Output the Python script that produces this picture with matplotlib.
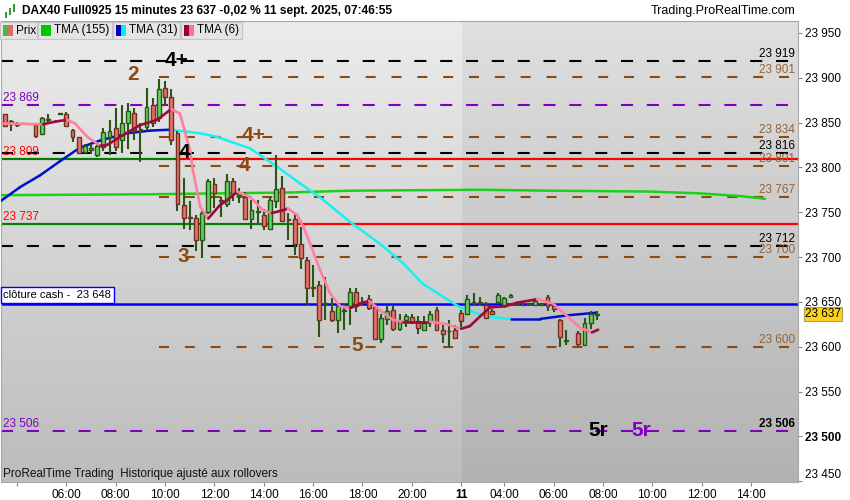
import numpy as np
import matplotlib
matplotlib.use("Agg")
import matplotlib.pyplot as plt
import matplotlib.transforms as mtransforms
from matplotlib.colors import LinearSegmentedColormap
from matplotlib.patches import Rectangle
from matplotlib.collections import LineCollection

plt.rcParams['font.family'] = ['Liberation Sans', 'DejaVu Sans']

# ---------------- data (15 min bars, index 0 = 10 sept 06:00) ----------------
nan = np.nan
bar_index = list(range(-10, 87))
opens = [23859, 23848, 23847, 23849, nan, 23847, 23837, 23853, nan, 23860,
         23860, 23842, 23834, 23817, 23819, 23814, 23823, 23834, 23844, 23831,
         23849, 23861, 23843, 23845, 23869, 23855, 23889, 23878, 23838, 23758,
         23745, 23744, 23719, 23750, 23782, 23764, 23759, 23785, 23769, 23767,
         23742, 23750, 23747, 23731, 23762, 23777, 23742, 23742, 23714, 23697,
         23667, 23669, 23648, 23640, 23630, 23640, 23645, 23661, 23651, 23653,
         23644, 23609, 23631, 23641, 23620, 23630, 23633, 23629, 23619, 23629,
         23641, 23619, 23617, 23619, 23638, 23636, 23649, 23650, 23647, 23640,
         23650, 23647, 23656, 23648, 23647, 23648, 23646, 23647, 23656, 23645,
         23630, 23606, nan, 23615, 23602, 23626, 23635]
highs = [23860, 23853, 23851, 23850, nan, 23847, 23856, 23859, nan, 23861,
         23862, 23843, 23834, 23826, 23826, 23825, 23844, 23853, 23866, 23870,
         23872, 23866, 23850, 23889, 23877, 23899, 23896, 23887, 23840, 23788,
         23762, 23747, 23751, 23787, 23788, 23767, 23793, 23788, 23777, 23772,
         23764, 23764, 23754, 23767, 23814, 23790, 23749, 23749, 23734, 23700,
         23691, 23673, 23678, 23654, 23648, 23648, 23665, 23665, 23656, 23658,
         23646, 23637, 23645, 23645, 23637, 23636, 23636, 23634, 23634, 23640,
         23644, 23624, 23630, 23624, 23641, 23658, 23660, 23656, 23650, 23642,
         23660, 23655, 23659, 23649, 23648, 23649, 23653, 23649, 23658, 23646,
         23631, 23619, nan, 23617, 23632, 23640, 23640]
lows = [23845, 23840, 23845, 23848, nan, 23833, 23836, 23849, nan, 23859,
        23845, 23828, 23815, 23815, 23815, 23812, 23818, 23814, 23818, 23816,
        23821, 23831, 23806, 23840, 23845, 23851, 23868, 23825, 23751, 23731,
        23730, 23707, 23699, 23748, 23755, 23745, 23756, 23763, 23760, 23741,
        23731, 23738, 23730, 23730, 23755, 23740, 23719, 23702, 23687, 23645,
        23656, 23611, 23630, 23628, 23615, 23619, 23624, 23639, 23646, 23641,
        23608, 23604, 23624, 23618, 23618, 23622, 23625, 23614, 23617, 23622,
        23617, 23604, 23600, 23609, 23622, 23635, 23645, 23646, 23631, 23636,
        23649, 23645, 23655, 23647, 23645, 23647, 23645, 23645, 23640, 23639,
        23600, 23602, nan, 23601, 23601, 23620, 23630]
closes = [23846, 23852, 23849, 23849, nan, 23835, 23855, 23854, nan, 23860,
          23846, 23834, 23816, 23824, 23822, 23824, 23839, 23841, 23823, 23849,
          23863, 23842, 23842, 23867, 23849, 23887, 23879, 23831, 23759, 23744,
          23744, 23719, 23749, 23785, 23771, 23762, 23785, 23770, 23771, 23742,
          23752, 23751, 23735, 23764, 23776, 23740, 23741, 23714, 23699, 23665,
          23665, 23630, 23649, 23630, 23645, 23641, 23661, 23645, 23650, 23643,
          23609, 23632, 23640, 23620, 23630, 23634, 23628, 23621, 23627, 23637,
          23619, 23614, 23618, 23610, 23629, 23653, 23650, 23649, 23632, 23637,
          23658, 23654, 23658, 23648, 23646, 23648, 23651, 23647, 23645, 23642,
          23611, 23607, nan, 23603, 23626, 23637, 23637]

# moving averages (bar position, value)
tma155_x = [-10.75, 13.6, 36.3, 46.0, 67.1, 78.4, 94.6, 102.7, 109.2, 113.2]
tma155_y = [23769, 23770, 23772, 23774, 23775, 23774, 23773, 23771, 23768, 23765]

tma31_x = [-10.75, -7.5, -4.3, -1.0, 2.2, 5.5, 9.8, 13.6, 16.8, 21.7, 24.4, 29.8,
           34.1, 37.9, 41.6, 46.0, 50.8, 54.6, 57.8, 61.7, 63.8, 67.1, 68.7, 72.1,
           76.8, 81.2, 86.0]
tma31_y = [23762, 23778, 23791, 23807, 23822, 23830, 23838, 23841, 23842, 23838,
           23834, 23821, 23801, 23782, 23764, 23739, 23715, 23693, 23670, 23653,
           23644, 23636, 23633, 23631, 23631, 23635, 23638]

tma6_x = [-10.75, -3.8, -1.8, 0.1, 1.4, 3.4, 5.5, 6.6, 9.2, 11.9, 14.7, 17.0, 18.4,
          20.05, 20.5, 21.7, 23.0, 24.9, 26.0, 27.7, 29.8, 31.9, 33.3, 35.0, 35.9,
          37.4, 38.4, 39.5, 41.1, 42.7, 44.4, 46.0, 47.6, 49.1, 50.8, 52.9, 54.6,
          58.9, 61.7, 64.0, 65.4, 67.1, 68.7, 71.1, 73.0, 76.3, 78.9, 81.2, 83.3,
          85.2, 86.2]
tma6_y = [23849, 23848, 23851, 23853, 23849, 23834, 23824, 23825, 23836, 23847,
          23853, 23865, 23860, 23819, 23797, 23756, 23743, 23758, 23763, 23773,
          23767, 23752, 23749, 23752, 23754, 23747, 23734, 23715, 23686, 23660,
          23645, 23643, 23648, 23651, 23641, 23630, 23628, 23628, 23625, 23620,
          23623, 23634, 23644, 23645, 23649, 23653, 23648, 23634, 23621, 23616,
          23619]

# horizontal levels
black_levels = [23919, 23816, 23712]
brown_levels = [23901, 23834, 23801, 23767, 23700, 23600]
purple_levels = [23869, 23506]
cash_close = 23648
pivot_hi = 23809
pivot_lo = 23737
pivot_hi_break = 17.9
pivot_lo_break = 37.1
pivot_lo_touches = [(20.9, 21.8), (31.9, 32.9)]
levels_start = 15.0
last_price = 23637

wave_labels = [("4+", 17.9, 23919, "black"), ("2", 10.8, 23903, "brown"),
               ("4", 19.1, 23817, "black"), ("4+", 30.3, 23836, "brown"),
               ("4", 28.8, 23802, "brown"), ("3", 18.9, 23701, "brown"),
               ("5", 47.1, 23601, "brown"), ("5r", 86.2, 23507, "black"),
               ("5r", 93.2, 23507, "purple")]

tick_pos = [-8, 0, 8, 16, 24, 32, 40, 48, 56, 64, 71, 79, 87, 95, 103, 111]
tick_lab = ["", "06:00", "08:00", "10:00", "12:00", "14:00", "16:00", "18:00",
            "20:00", "11", "04:00", "06:00", "08:00", "10:00", "12:00", "14:00"]
price_ticks = [23450, 23500, 23550, 23600, 23650, 23700, 23750, 23800, 23850,
               23900, 23950]

# ---------------- styles ----------------
BLACK = "#000000"
BROWN = "#8b4a12"
BROWN_TXT = "#946236"
PURPLE = "#8000c0"
col_of = {"black": BLACK, "brown": "#8b4a12", "purple": PURPLE}


def fmt(v):
    return f"{v:,.0f}".replace(",", " ")


W, H = 850, 500
fig = plt.figure(figsize=(W / 100, H / 100), dpi=100)
fig.patch.set_facecolor("white")
ax = fig.add_axes([1 / W, 1 - 481.7 / H, 797 / W, (481.7 - 21) / H])

x_min, x_max = -10.6, 118.6
y_min, y_max = 23449.5, 23963.2

bg = LinearSegmentedColormap.from_list("bg", ["#bcbcbc", "#ececec"])
ax.imshow(np.linspace(0, 1, 256).reshape(-1, 1), extent=[x_min, x_max, y_min, y_max],
          cmap=bg, origin="lower", aspect="auto", zorder=0)
ax.axvspan(64.15, x_max, color="black", alpha=0.05, lw=0, zorder=0.5)
ax.set_xlim(x_min, x_max)
ax.set_ylim(y_min, y_max)

dash = (0, (5.8, 6.6))
for lv in black_levels:
    ax.plot([x_min, x_max], [lv, lv], color=BLACK, lw=1.5, linestyle=dash, zorder=2)
for lv in purple_levels:
    ax.plot([x_min, x_max], [lv, lv], color=PURPLE, lw=1.5, linestyle=dash, zorder=2)
for lv in brown_levels:
    ax.plot([levels_start, x_max], [lv, lv], color=BROWN, lw=1.5,
            linestyle=(0, (4.8, 7.6)), zorder=2)

# pivot lines: green while price above, red after the break
ax.plot([x_min, pivot_hi_break], [pivot_hi] * 2, color="#008000", lw=1.6, zorder=2)
ax.plot([pivot_hi_break, x_max], [pivot_hi] * 2, color="#ff0000", lw=1.6, zorder=2)
ax.plot([x_min, pivot_lo_break], [pivot_lo] * 2, color="#008000", lw=1.6, zorder=2)
ax.plot([pivot_lo_break, x_max], [pivot_lo] * 2, color="#ff0000", lw=1.6, zorder=2)
for a, b in pivot_lo_touches:
    ax.plot([a, b], [pivot_lo] * 2, color="#ff0000", lw=1.6, zorder=2.1)
ax.plot([x_min, x_max], [cash_close] * 2, color="#0000ff", lw=1.8, zorder=2)

# moving averages
ax.plot(tma155_x, tma155_y, color="#19d219", lw=1.8, zorder=3)


def two_tone(xs, ys, up, down, lw, z):
    pts = np.column_stack([xs, ys])
    segs = np.stack([pts[:-1], pts[1:]], axis=1)
    cols = [up if y1 >= y0 else down for y0, y1 in zip(ys[:-1], ys[1:])]
    ax.add_collection(LineCollection(segs, colors=cols, linewidths=lw, zorder=z,
                                     capstyle="round"))


two_tone(tma31_x, tma31_y, "#0010c8", "#19f0f0", 1.8, 3)

# candles
o = np.array(opens, float)
h = np.array(highs, float)
l = np.array(lows, float)
c = np.array(closes, float)
x = np.array(bar_index, float)
ok = ~np.isnan(o)
up = c >= o
ax.vlines(x[ok], l[ok], h[ok], color="#2a5516", lw=1.5, zorder=4)
body = np.maximum(np.abs(c - o), 0.9)
for m, fc, ec in [(ok & up, "#5fd45f", "#2a5516"), (ok & ~up, "#ea7068", "#6e3320")]:
    ax.bar(x[m], body[m], bottom=np.minimum(o, c)[m], width=0.62, color=fc,
           edgecolor=ec, lw=1.0, zorder=5)

two_tone(tma6_x, tma6_y, "#9b0a3a", "#ff7fa2", 1.9, 6)

# wave labels
for txt, xi, yv, cname in wave_labels:
    ax.text(xi, yv, txt, color=col_of[cname], fontsize=15, fontweight="bold",
            ha="center", va="center", zorder=7)

# price labels on the right of levels
tr = mtransforms.blended_transform_factory(ax.transAxes, ax.transData)
for lv in black_levels:
    ax.annotate(fmt(lv), (0.996, lv), xycoords=tr, xytext=(0, 0.8),
                textcoords="offset points", ha="right", va="bottom",
                fontsize=8.5, color=BLACK, zorder=7)
for lv in brown_levels:
    ax.annotate(fmt(lv), (0.996, lv), xycoords=tr, xytext=(0, 0.8),
                textcoords="offset points", ha="right", va="bottom",
                fontsize=8.5, color=BROWN_TXT, zorder=7)
ax.annotate(fmt(purple_levels[1]), (0.996, purple_levels[1]), xycoords=tr,
            xytext=(0, 0.8), textcoords="offset points", ha="right", va="bottom",
            fontsize=8.5, color=BLACK, fontweight="bold", zorder=7)

# left side labels
for lv in purple_levels:
    ax.annotate(fmt(lv), (0.003, lv), xycoords=tr, xytext=(0, 0.8),
                textcoords="offset points", ha="left", va="bottom",
                fontsize=8.5, color=PURPLE, zorder=7)
for lv in [pivot_hi, pivot_lo]:
    ax.annotate(fmt(lv), (0.003, lv), xycoords=tr, xytext=(0, 0.8),
                textcoords="offset points", ha="left", va="bottom",
                fontsize=8.5, color="#ff0000", zorder=7)
ax.annotate(f"clôture cash -  {fmt(cash_close)}", (0.003, cash_close), xycoords=tr,
            xytext=(0, 2.5), textcoords="offset points", ha="left", va="bottom",
            fontsize=8, color=BLACK, zorder=8,
            bbox=dict(boxstyle="square,pad=0.25", fc="white", ec="#0000ff", lw=1))

ax.text(0.003, 0.003, "ProRealTime Trading  Historique ajusté aux rollovers",
        transform=ax.transAxes, fontsize=8.5, color="#111111", ha="left",
        va="bottom", zorder=8)

# axes
ax.yaxis.tick_right()
ax.set_yticks(price_ticks)
ax.set_yticklabels([fmt(v) for v in price_ticks])
ax.tick_params(axis="y", length=3, color="#888888", labelsize=8.5, pad=2)
for t in ax.get_yticklabels():
    if t.get_text() == "23 500":
        t.set_fontweight("bold")
    if t.get_text() == "23 450":
        t.set_va("bottom")
ax.set_xticks(tick_pos)
ax.set_xticklabels(tick_lab)
ax.tick_params(axis="x", length=3, color="#888888", labelsize=8.5, pad=2)
for t in ax.get_xticklabels():
    if t.get_text() == "11":
        t.set_fontweight("bold")
for s in ax.spines.values():
    s.set_color("#a8a8a8")
    s.set_linewidth(0.8)

ax.annotate(fmt(last_price), (1.0, last_price), xycoords=tr, xytext=(5, -0.5),
            textcoords="offset points", ha="left", va="center", fontsize=8.5,
            color=BLACK, annotation_clip=False, zorder=9,
            bbox=dict(boxstyle="square,pad=0.08", fc="#ffd21a", ec="#b0a060", lw=0.8))

# header
fig.text(22 / W, 1 - 11 / H,
         "DAX40 Full0925 15 minutes 23 637 -0,02 % 11 sept. 2025, 07:46:55",
         fontsize=8.6, fontweight="bold", ha="left", va="center")
fig.text(795 / W, 1 - 11 / H, "Trading.ProRealTime.com", fontsize=9,
         ha="right", va="center")
for (bx, by, bw, bh, fc) in [(5, 12, 2, 6, "#3a9a3a"), (9, 8, 2, 7, "#3a9a3a"),
                             (13, 4, 2, 8, "#3a9a3a")]:
    fig.add_artist(Rectangle((bx / W, 1 - (by + bh) / H), bw / W, bh / H,
                             facecolor=fc, edgecolor="none", transform=fig.transFigure))

legend = [("Prix", 0, 37, ["#3fbf3f", "#e06a6a"]),
          ("TMA (155)", 38, 112, ["#00c800"]),
          ("TMA (31)", 113, 180, ["#0000c8", "#00f0ff"]),
          ("TMA (6)", 181, 242, ["#99003a", "#ff6f96"])]
for name, x0, x1, cols in legend:
    fig.add_artist(Rectangle((x0 / W, 1 - 39 / H), (x1 - x0) / W, 17 / H,
                             facecolor="#e4e4e4", edgecolor="#c4c4c4", lw=0.8,
                             transform=fig.transFigure, zorder=10))
    sw = 10 / len(cols)
    for k, cc in enumerate(cols):
        fig.add_artist(Rectangle(((x0 + 3 + k * sw) / W, 1 - 35.5 / H), sw / W, 10 / H,
                                 facecolor=cc, edgecolor="none",
                                 transform=fig.transFigure, zorder=11))
    fig.text((x0 + 16) / W, 1 - 30.5 / H, name, fontsize=8.5, ha="left",
             va="center", zorder=12)

fig.savefig("out.png", dpi=100)
